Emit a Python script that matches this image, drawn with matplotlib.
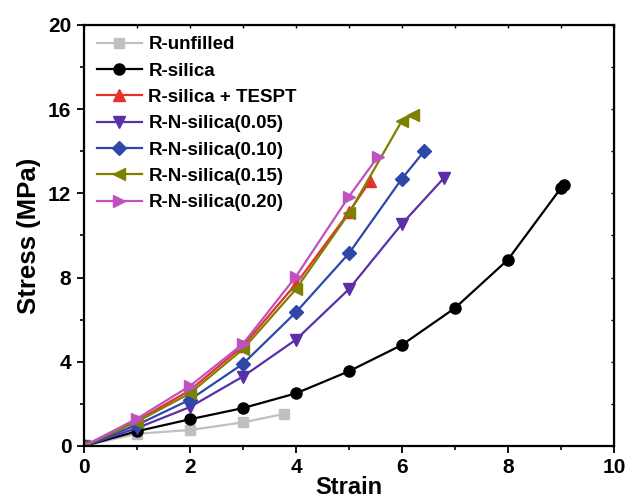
import matplotlib
matplotlib.use("Agg")
import matplotlib.pyplot as plt
from matplotlib import font_manager

names = {f.name for f in font_manager.fontManager.ttflist}
narrow = "Liberation Sans Narrow" if "Liberation Sans Narrow" in names else "Liberation Sans"

unfilled_x = [0, 1, 2, 3, 3.77]
unfilled_y = [0, 0.58, 0.76, 1.12, 1.52]
silica_x = [0, 1, 2, 3, 4, 5, 6, 7, 8, 9.0, 9.05]
silica_y = [0, 0.7, 1.27, 1.8, 2.5, 3.55, 4.8, 6.55, 8.85, 12.25, 12.4]
tespt_x = [0, 1, 2, 3, 4, 5, 5.4]
tespt_y = [0, 1.2, 2.65, 4.75, 7.7, 11.1, 12.6]
n005_x = [0, 1, 2, 3, 4, 5, 6, 6.8]
n005_y = [0, 0.85, 1.85, 3.3, 5.05, 7.45, 10.55, 12.75]
n010_x = [0, 1, 2, 3, 4, 5, 6, 6.42]
n010_y = [0, 1.0, 2.2, 3.9, 6.35, 9.15, 12.7, 14.0]
n015_x = [0, 1, 2, 3, 4, 5, 6.0, 6.2]
n015_y = [0, 1.15, 2.5, 4.6, 7.45, 11.05, 15.45, 15.7]
n020_x = [0, 1, 2, 3, 4, 5, 5.55]
n020_y = [0, 1.3, 2.85, 4.85, 8.05, 11.85, 13.75]

series = [
    ("R-unfilled", unfilled_x, unfilled_y, "#c0c0c0", "s"),
    ("R-silica", silica_x, silica_y, "#000000", "o"),
    ("R-silica + TESPT", tespt_x, tespt_y, "#e8302a", "^"),
    ("R-N-silica(0.05)", n005_x, n005_y, "#5b2fa8", "v"),
    ("R-N-silica(0.10)", n010_x, n010_y, "#2d48a8", "D"),
    ("R-N-silica(0.15)", n015_x, n015_y, "#808000", "<"),
    ("R-N-silica(0.20)", n020_x, n020_y, "#c051c0", ">"),
]

fig = plt.figure(figsize=(6.29, 5.01), dpi=100)
ax = fig.add_axes([0.1335, 0.1098, 0.8425, 0.8404])

for label, xs, ys, c, m in series:
    ms = 8 if m in ("o",) else (7 if m in ("s", "D") else 9)
    ax.plot(xs, ys, color=c, marker=m, markersize=ms, linewidth=1.6,
            markeredgecolor=c, markerfacecolor=c, label=label)

ax.set_xlim(0, 10)
ax.set_ylim(0, 20)
ax.set_xticks([0, 2, 4, 6, 8, 10])
ax.set_xticks([1, 3, 5, 7, 9], minor=True)
ax.set_yticks([0, 4, 8, 12, 16, 20])
ax.set_yticks([2, 6, 10, 14, 18], minor=True)
ax.tick_params(which="major", direction="out", length=5, width=1.3)
ax.tick_params(which="minor", direction="out", length=3, width=1.2)
for lab in ax.get_xticklabels() + ax.get_yticklabels():
    lab.set_fontfamily(narrow)
    lab.set_fontweight("bold")
    lab.set_fontsize(15)
ax.tick_params(pad=4)

for s in ax.spines.values():
    s.set_linewidth(1.6)

secx = ax.secondary_xaxis("top")
secx.set_xticks([0, 2, 4, 6, 8, 10])
secx.set_xticks([1, 3, 5, 7, 9], minor=True)
secx.tick_params(which="both", direction="in", length=2, width=1, labeltop=False)
secy = ax.secondary_yaxis("right")
secy.set_yticks([0, 4, 8, 12, 16, 20])
secy.set_yticks([2, 6, 10, 14, 18], minor=True)
secy.tick_params(which="both", direction="in", length=2, width=1, labelright=False)

ax.set_xlabel("Strain", fontfamily=narrow, fontweight="bold", fontsize=17, labelpad=-1)
ax.set_ylabel("Stress (MPa)", fontfamily=narrow, fontweight="bold", fontsize=18.5, labelpad=5)

leg = ax.legend(loc="upper left", frameon=False, prop={"family": "Liberation Sans", "weight": "bold", "size": 13.5},
                handlelength=2.4, labelspacing=0.49, borderaxespad=0.2, handletextpad=0.35,
                bbox_to_anchor=(0.003, 1.0))

fig.savefig("out.png", dpi=100)
